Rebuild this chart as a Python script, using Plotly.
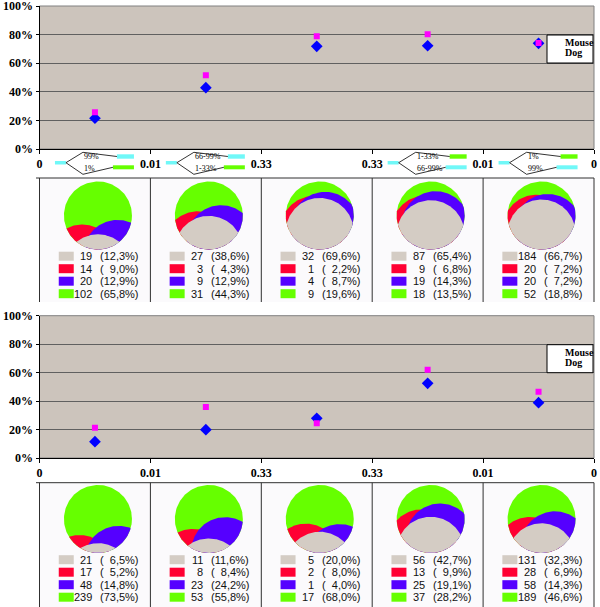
import numpy as np
import plotly.graph_objects as go

# ---------------- data ----------------
tick_labels = ["0", "0.01", "0.33", "0.33", "0.01", "0"]
series_names = ["Mouse", "Dog"]
top_mouse = [21.5, 42.9, 71.8, 72.2, 73.9]
top_dog = [25.7, 51.5, 78.8, 80.2, 74.2]
bot_mouse = [11.5, 19.9, 27.9, 52.5, 38.9]
bot_dog = [21.3, 35.8, 24.4, 62.1, 46.6]
# pie categories: grey, red, blue, green
top_counts = [[19, 14, 20, 102], [27, 3, 9, 31], [32, 1, 4, 9], [87, 9, 19, 18], [184, 20, 20, 52]]
bot_counts = [[21, 17, 48, 239], [11, 8, 23, 53], [5, 2, 1, 17], [56, 13, 25, 37], [131, 28, 58, 189]]
glyph_upper = ["99%", "66-99%", None, "1-33%", "1%"]
glyph_lower = ["1%", "1-33%", None, "66-99%", "99%"]
glyph_upper_is_cyan = [True, True, None, False, False]

# ---------------- style ----------------
W, H = 600, 607
CAT_COLORS = ["#D4CCC4", "#FF0033", "#5500FF", "#66FF00"]
CYAN = "#70F8F8"
GREEN = "#66FF00"
PLOT_BG = "#CCC4BC"
PX0, PX1 = 39.5, 594.0
TOP_Y = (6.0, 149.0)
BOT_Y = (315.7, 458.0)
PANEL_TOP = (178.0, 302.0)
PANEL_BOT = (482.7, 607.0)
PIE_CY = (215.5, 519.0)
PIE_R = 34.0
SERIF = "Liberation Serif, Times New Roman, serif"
SANS = "Liberation Sans, Arial, sans-serif"
DIR_RED, DIR_BLUE, DIR_GREY = 250, 297, 270

n_int = len(tick_labels) - 1
step = (PX1 - PX0) / n_int
tick_px = [PX0 + i * step for i in range(n_int + 1)]
mid_px = [PX0 + (i + 0.5) * step for i in range(n_int)]

fig = go.Figure()
shapes = []
annotations = []


def dom_y(y0, y1):
    return [1 - y1 / H, 1 - y0 / H]


# ---------------- scatter charts ----------------
axis_font = dict(family=SERIF, size=12, color="black", weight="bold")
for k, (yr, mouse, dog) in enumerate([(TOP_Y, top_mouse, top_dog), (BOT_Y, bot_mouse, bot_dog)]):
    xa = "x" if k == 0 else "x2"
    ya = "y" if k == 0 else "y2"
    xs = [i + 0.5 for i in range(n_int)]
    fig.add_trace(go.Scatter(x=xs, y=mouse, mode="markers", name=series_names[0],
                             marker=dict(symbol="diamond", size=9, color="#0000FF"),
                             xaxis=xa, yaxis=ya, showlegend=False))
    fig.add_trace(go.Scatter(x=xs, y=dog, mode="markers", name=series_names[1],
                             marker=dict(symbol="square", size=6, color="#FF00FF"),
                             xaxis=xa, yaxis=ya, showlegend=False))
    xkey = "xaxis" if k == 0 else "xaxis2"
    ykey = "yaxis" if k == 0 else "yaxis2"
    fig.update_layout(**{
        xkey: dict(domain=[PX0 / W, PX1 / W], anchor=ya, range=[0, n_int],
                   tickvals=list(range(n_int + 1)), ticktext=tick_labels,
                   ticks="outside", ticklen=4, tickcolor="black", showline=True,
                   linecolor="black", linewidth=1, showgrid=False, zeroline=False,
                   tickfont=axis_font, fixedrange=True, automargin=False,
                   ticklabeloverflow="allow"),
        ykey: dict(domain=dom_y(*yr), anchor=xa, range=[0, 100],
                   tickvals=[0, 20, 40, 60, 80, 100],
                   ticktext=[f"{v}%" for v in [0, 20, 40, 60, 80, 100]],
                   ticks="outside", ticklen=3, tickcolor="black", showline=True,
                   linecolor="black", linewidth=1, showgrid=True, gridcolor="#606060",
                   gridwidth=1, zeroline=False, tickfont=axis_font, fixedrange=True,
                   automargin=False, ticklabeloverflow="allow"),
    })
    shapes.append(dict(type="rect", xref=f"{xa} domain", yref=f"{ya} domain",
                       x0=0, x1=1, y0=0, y1=1, fillcolor=PLOT_BG,
                       line=dict(color="#808080", width=1), layer="below"))

# ---------------- overlay axis (pixel space) ----------------
fig.update_layout(
    xaxis3=dict(domain=[0, 1], range=[0, W], visible=False, anchor="y3", fixedrange=True,
                automargin=False),
    yaxis3=dict(domain=[0, 1], range=[H, 0], visible=False, anchor="x3", fixedrange=True,
                automargin=False),
)


def lens_frac(d):
    return (2 * np.arccos(d / 2) - d / 2 * np.sqrt(4 - d * d)) / np.pi


def solve_d(f):
    lo, hi = 0.0, 2.0
    for _ in range(60):
        m = (lo + hi) / 2
        if lens_frac(m) > f:
            lo = m
        else:
            hi = m
    return (lo + hi) / 2


def lens_xy(f, theta_deg, n=80):
    if f >= 0.9999:
        t = np.linspace(0, 2 * np.pi, 2 * n)
        return np.cos(t), np.sin(t)
    d = solve_d(f)
    th = np.radians(theta_deg)
    a = np.arccos(d / 2)
    p1 = np.linspace(th - a, th + a, n)
    p2 = np.linspace(th + np.pi - a, th + np.pi + a, n)
    x = np.concatenate([np.cos(p1), d * np.cos(th) + np.cos(p2)])
    y = np.concatenate([np.sin(p1), d * np.sin(th) + np.sin(p2)])
    return x, y


def fmt_pct(p):
    s = f"{p:.1f}".replace(".", ",")
    if p < 10:
        s = "\u2007" + s
    return f"({s}%)"


for panel, (py0, py1), cy, counts in [(0, PANEL_TOP, PIE_CY[0], top_counts),
                                       (1, PANEL_BOT, PIE_CY[1], bot_counts)]:
    shapes.append(dict(type="rect", xref="x3", yref="y3", x0=PX0, x1=PX1, y0=py0, y1=py1,
                       fillcolor="#FBFAFC", line=dict(width=0), layer="below"))
    shapes.append(dict(type="line", xref="x3", yref="y3", x0=PX0 - 3.5, x1=PX1, y0=py0, y1=py0,
                       line=dict(color="#303030", width=1)))
    for tx in tick_px:
        shapes.append(dict(type="line", xref="x3", yref="y3", x0=tx, x1=tx, y0=py0, y1=py1,
                           line=dict(color="#303030", width=1)))
    for i, cnt in enumerate(counts):
        tot = float(sum(cnt))
        fr = [c / tot for c in cnt]
        cx = mid_px[i] + 3
        layers = [(1.0, 0, CAT_COLORS[3]),
                  (fr[0] + fr[1], DIR_RED, CAT_COLORS[1]),
                  (fr[0] + fr[2], DIR_BLUE, CAT_COLORS[2]),
                  (fr[0], DIR_GREY, CAT_COLORS[0])]
        for f, th, col in layers:
            if f <= 0:
                continue
            lx, ly = lens_xy(f, th)
            fig.add_trace(go.Scatter(x=cx + PIE_R * lx, y=cy - PIE_R * ly, mode="lines",
                                     fill="toself", fillcolor=col, line=dict(width=0, color=col),
                                     xaxis="x3", yaxis="y3", showlegend=False, hoverinfo="skip"))
        for r in range(4):
            ry = cy + 40.7 + r * 12.5
            shapes.append(dict(type="rect", xref="x3", yref="y3", x0=cx - 39.2, x1=cx - 24.2,
                               y0=ry - 4.5, y1=ry + 4.5, fillcolor=CAT_COLORS[r], line=dict(width=0)))
            annotations.append(dict(xref="x3", yref="y3", x=cx - 3.5, y=ry, text=str(cnt[r]),
                                    xanchor="right", yanchor="middle", showarrow=False,
                                    font=dict(family=SANS, size=11, color="#111")))
            annotations.append(dict(xref="x3", yref="y3", x=cx + 0.5, y=ry,
                                    text=fmt_pct(100 * fr[r]),
                                    xanchor="left", yanchor="middle", showarrow=False,
                                    font=dict(family=SANS, size=11, color="#111")))

# ---------------- glyphs between top axis labels ----------------
for i in range(n_int):
    if glyph_upper[i] is None:
        continue
    gx = mid_px[i]
    up_col = CYAN if glyph_upper_is_cyan[i] else GREEN
    lo_col = GREEN if glyph_upper_is_cyan[i] else CYAN
    shapes.append(dict(type="rect", xref="x3", yref="y3", x0=gx - 40, x1=gx - 29, y0=161, y1=164.5,
                       fillcolor=CYAN, line=dict(width=0)))
    shapes.append(dict(type="rect", xref="x3", yref="y3", x0=gx + 22, x1=gx + 39, y0=154.3, y1=158.7,
                       fillcolor=up_col, line=dict(width=0)))
    shapes.append(dict(type="rect", xref="x3", yref="y3", x0=gx + 18, x1=gx + 39, y0=165.3, y1=169.3,
                       fillcolor=lo_col, line=dict(width=0)))
    path = (f"M {gx + 22},{156.5} L {gx - 12},{152.3} L {gx - 29},{162.7} "
            f"L {gx - 12},{174.3} L {gx + 18},{167.3}")
    shapes.append(dict(type="path", xref="x3", yref="y3", path=path,
                       line=dict(color="black", width=0.8)))
    annotations.append(dict(xref="x3", yref="y3", x=gx - 13, y=156.8, text=glyph_upper[i],
                            xanchor="left", yanchor="middle", showarrow=False,
                            font=dict(family=SERIF, size=8, color="black")))
    annotations.append(dict(xref="x3", yref="y3", x=gx - 13, y=168.3, text=glyph_lower[i],
                            xanchor="left", yanchor="middle", showarrow=False,
                            font=dict(family=SERIF, size=8, color="black")))

# ---------------- manual legends ----------------
for (yt, yb) in [TOP_Y, BOT_Y]:
    lx0, lx1 = PX1 - 47, PX1 - 1
    shapes.append(dict(type="rect", xref="x3", yref="y3", x0=lx0, x1=lx1, y0=yt + 29, y1=yt + 57,
                       fillcolor="white", line=dict(color="black", width=1)))
    fig.add_trace(go.Scatter(x=[lx0 + 9.5], y=[yt + 36.7], mode="markers",
                             marker=dict(symbol="diamond", size=9, color="#0000FF"),
                             xaxis="x3", yaxis="y3", showlegend=False, hoverinfo="skip"))
    fig.add_trace(go.Scatter(x=[lx0 + 9.5], y=[yt + 46.7], mode="markers",
                             marker=dict(symbol="square", size=6, color="#FF00FF"),
                             xaxis="x3", yaxis="y3", showlegend=False, hoverinfo="skip"))
    for j, nm in enumerate(series_names):
        annotations.append(dict(xref="x3", yref="y3", x=lx0 + 15.5, y=yt + 36.9 + 10 * j, text=nm,
                                xanchor="left", yanchor="middle", showarrow=False,
                                font=dict(family=SERIF, size=10, color="black", weight="bold")))

fig.update_layout(
    width=W, height=H, autosize=False,
    margin=dict(l=0, r=0, t=0, b=0, pad=0, autoexpand=False),
    paper_bgcolor="white",
    plot_bgcolor="rgba(0,0,0,0)",
    shapes=shapes,
    annotations=annotations,
    showlegend=False,
)

POST = ("document.documentElement.style.margin='0';"
        "document.documentElement.style.padding='0';"
        "document.documentElement.style.overflow='hidden';"
        "document.body.style.margin='0';document.body.style.padding='0';"
        "document.body.style.overflow='hidden';"
        "var gd=document.getElementById('{plot_id}');"
        "gd.style.position='fixed';gd.style.left='0px';gd.style.top='0px';"
        "window.scrollTo(0,0);")

fig.write_html("out.html", config={"displayModeBar": False, "responsive": False},
               post_script=POST)
